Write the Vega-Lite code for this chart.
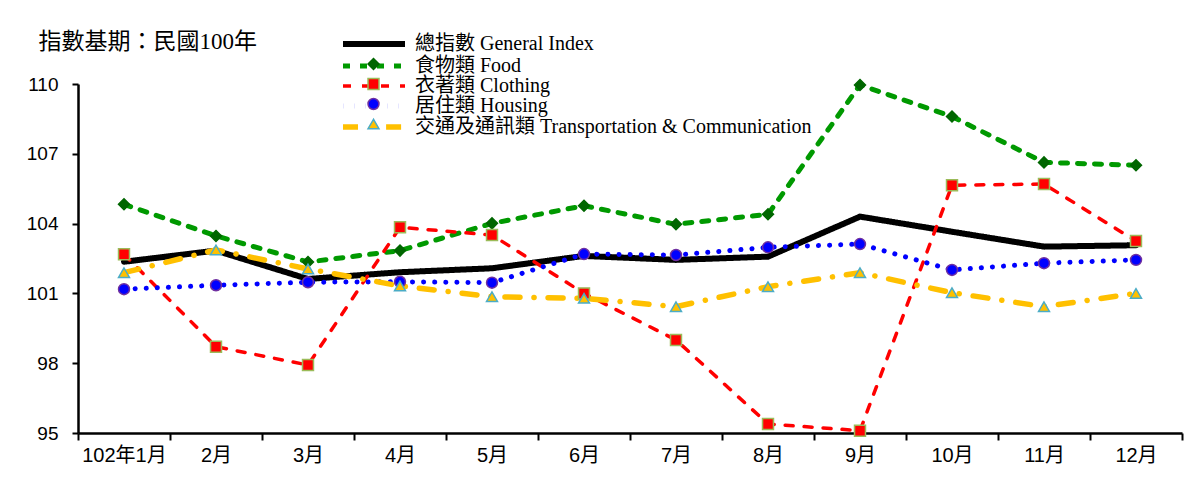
{
  "$schema": "https://vega.github.io/schema/vega-lite/v6.json",
  "width": 1104,
  "height": 349,
  "autosize": {"type": "none"},
  "padding": {"left": 78, "top": 84, "right": 16, "bottom": 50},
  "background": "white",
  "config": {"view": {"stroke": null}, "font": "Liberation Sans, Noto Sans CJK TC"},
  "data": {
    "values": [
      {"month": "102年1月", "series": "總指數 General Index", "value": 102.36},
      {"month": "2月", "series": "總指數 General Index", "value": 102.84},
      {"month": "3月", "series": "總指數 General Index", "value": 101.62},
      {"month": "4月", "series": "總指數 General Index", "value": 101.91},
      {"month": "5月", "series": "總指數 General Index", "value": 102.08},
      {"month": "6月", "series": "總指數 General Index", "value": 102.61},
      {"month": "7月", "series": "總指數 General Index", "value": 102.44},
      {"month": "8月", "series": "總指數 General Index", "value": 102.58},
      {"month": "9月", "series": "總指數 General Index", "value": 104.30},
      {"month": "10月", "series": "總指數 General Index", "value": 103.65},
      {"month": "11月", "series": "總指數 General Index", "value": 103.01},
      {"month": "12月", "series": "總指數 General Index", "value": 103.07},
      {"month": "102年1月", "series": "食物類 Food", "value": 104.83},
      {"month": "2月", "series": "食物類 Food", "value": 103.47},
      {"month": "3月", "series": "食物類 Food", "value": 102.35},
      {"month": "4月", "series": "食物類 Food", "value": 102.84},
      {"month": "5月", "series": "食物類 Food", "value": 104.01},
      {"month": "6月", "series": "食物類 Food", "value": 104.77},
      {"month": "7月", "series": "食物類 Food", "value": 103.97},
      {"month": "8月", "series": "食物類 Food", "value": 104.40},
      {"month": "9月", "series": "食物類 Food", "value": 109.96},
      {"month": "10月", "series": "食物類 Food", "value": 108.60},
      {"month": "11月", "series": "食物類 Food", "value": 106.63},
      {"month": "12月", "series": "食物類 Food", "value": 106.51},
      {"month": "102年1月", "series": "衣著類 Clothing", "value": 102.68},
      {"month": "2月", "series": "衣著類 Clothing", "value": 98.71},
      {"month": "3月", "series": "衣著類 Clothing", "value": 97.92},
      {"month": "4月", "series": "衣著類 Clothing", "value": 103.84},
      {"month": "5月", "series": "衣著類 Clothing", "value": 103.51},
      {"month": "6月", "series": "衣著類 Clothing", "value": 101.00},
      {"month": "7月", "series": "衣著類 Clothing", "value": 99.00},
      {"month": "8月", "series": "衣著類 Clothing", "value": 95.39},
      {"month": "9月", "series": "衣著類 Clothing", "value": 95.10},
      {"month": "10月", "series": "衣著類 Clothing", "value": 105.65},
      {"month": "11月", "series": "衣著類 Clothing", "value": 105.70},
      {"month": "12月", "series": "衣著類 Clothing", "value": 103.25},
      {"month": "102年1月", "series": "居住類 Housing", "value": 101.18},
      {"month": "2月", "series": "居住類 Housing", "value": 101.35},
      {"month": "3月", "series": "居住類 Housing", "value": 101.48},
      {"month": "4月", "series": "居住類 Housing", "value": 101.50},
      {"month": "5月", "series": "居住類 Housing", "value": 101.46},
      {"month": "6月", "series": "居住類 Housing", "value": 102.69},
      {"month": "7月", "series": "居住類 Housing", "value": 102.65},
      {"month": "8月", "series": "居住類 Housing", "value": 102.98},
      {"month": "9月", "series": "居住類 Housing", "value": 103.12},
      {"month": "10月", "series": "居住類 Housing", "value": 102.01},
      {"month": "11月", "series": "居住類 Housing", "value": 102.30},
      {"month": "12月", "series": "居住類 Housing", "value": 102.44},
      {"month": "102年1月", "series": "交通及通訊類 Transportation & Communication", "value": 101.89},
      {"month": "2月", "series": "交通及通訊類 Transportation & Communication", "value": 102.87},
      {"month": "3月", "series": "交通及通訊類 Transportation & Communication", "value": 102.05},
      {"month": "4月", "series": "交通及通訊類 Transportation & Communication", "value": 101.32},
      {"month": "5月", "series": "交通及通訊類 Transportation & Communication", "value": 100.86},
      {"month": "6月", "series": "交通及通訊類 Transportation & Communication", "value": 100.79},
      {"month": "7月", "series": "交通及通訊類 Transportation & Communication", "value": 100.43},
      {"month": "8月", "series": "交通及通訊類 Transportation & Communication", "value": 101.29},
      {"month": "9月", "series": "交通及通訊類 Transportation & Communication", "value": 101.89},
      {"month": "10月", "series": "交通及通訊類 Transportation & Communication", "value": 101.03},
      {"month": "11月", "series": "交通及通訊類 Transportation & Communication", "value": 100.43},
      {"month": "12月", "series": "交通及通訊類 Transportation & Communication", "value": 101.00}
    ]
  },
  "encoding": {
    "x": {
      "field": "month",
      "type": "nominal",
      "sort": ["102年1月", "2月", "3月", "4月", "5月", "6月", "7月", "8月", "9月", "10月", "11月", "12月"],
      "scale": {"type": "band", "paddingInner": 0, "paddingOuter": 0},
      "axis": {
        "title": null,
        "tickBand": "extent",
        "labelAngle": 0,
        "grid": false,
        "domainColor": "black",
        "domainWidth": 2.5,
        "tickColor": "black",
        "tickWidth": 2,
        "tickSize": 7,
        "labelFont": "Liberation Sans, Noto Sans CJK TC",
        "labelFontSize": 20,
        "labelColor": "black",
        "labelPadding": 5
      }
    },
    "y": {
      "field": "value",
      "type": "quantitative",
      "scale": {"domain": [95, 110], "zero": false, "nice": false},
      "axis": {
        "title": "指數基期：民國100年",
        "titleAngle": 0,
        "titleAlign": "left",
        "titleBaseline": "middle",
        "titleX": -40,
        "titleY": -43,
        "titleFont": "Liberation Serif, Noto Sans CJK TC",
        "titleFontSize": 23,
        "titleFontWeight": "normal",
        "titleColor": "black",
        "values": [95, 98, 101, 104, 107, 110],
        "grid": false,
        "domainColor": "black",
        "domainWidth": 2.5,
        "tickColor": "black",
        "tickWidth": 2,
        "tickSize": 6,
        "labelFont": "Liberation Sans, Noto Sans CJK TC",
        "labelFontSize": 19,
        "labelColor": "black",
        "labelPadding": 14
      }
    }
  },
  "layer": [
    {
      "mark": {"type": "line", "strokeCap": "round", "strokeJoin": "round"},
      "encoding": {
        "stroke": {
          "field": "series", "type": "nominal",
          "scale": {
            "domain": ["總指數 General Index", "食物類 Food", "衣著類 Clothing", "居住類 Housing", "交通及通訊類 Transportation & Communication"],
            "range": ["#000000", "#009900", "#FF0000", "#0000FF", "#FFC000"]
          },
          "legend": {"orient": "none", "legendX": 286, "legendY": -50, "title": null, "symbolType": "M-6.2,0H6.2", "symbolSize": 100, "labelFont": "Liberation Serif, Noto Sans CJK TC", "labelFontSize": 20, "labelColor": "black", "labelOffset": 31, "rowPadding": 0, "padding": 0, "labelLimit": 0}
        },
        "strokeDash": {
          "field": "series", "type": "nominal",
          "scale": {
            "domain": ["總指數 General Index", "食物類 Food", "衣著類 Clothing", "居住類 Housing", "交通及通訊類 Transportation & Communication"],
            "range": [[1, 0], [7, 10], [8, 11], [0.1, 11], [15, 14, 0.1, 14]]
          },
          "legend": {"orient": "none", "legendX": 286, "legendY": -50, "title": null, "symbolType": "M-6.2,0H6.2", "symbolSize": 100, "labelFont": "Liberation Serif, Noto Sans CJK TC", "labelFontSize": 20, "labelColor": "black", "labelOffset": 31, "rowPadding": 0, "padding": 0, "labelLimit": 0}
        },
        "strokeWidth": {
          "field": "series", "type": "nominal",
          "scale": {
            "type": "ordinal",
            "domain": ["總指數 General Index", "食物類 Food", "衣著類 Clothing", "居住類 Housing", "交通及通訊類 Transportation & Communication"],
            "range": [6, 5, 3.5, 5, 5.5]
          },
          "legend": {"orient": "none", "legendX": 286, "legendY": -50, "title": null, "symbolType": "M-6.2,0H6.2", "symbolSize": 100, "labelFont": "Liberation Serif, Noto Sans CJK TC", "labelFontSize": 20, "labelColor": "black", "labelOffset": 31, "rowPadding": 0, "padding": 0, "labelLimit": 0}
        }
      }
    },
    {
      "transform": [{"filter": "datum.series != '總指數 General Index'"}],
      "mark": {"type": "point", "filled": true, "size": 120, "strokeWidth": 1.5, "opacity": 1},
      "encoding": {
        "fill": {
          "field": "series", "type": "nominal",
          "scale": {
            "domain": ["食物類 Food", "衣著類 Clothing", "居住類 Housing", "交通及通訊類 Transportation & Communication"],
            "range": ["#006600", "#FF0000", "#0000FF", "#FFC000"]
          },
          "legend": {"orient": "none", "legendX": 285.5, "legendY": -30, "title": null, "symbolSize": 120, "symbolStrokeWidth": 1.5, "symbolOpacity": 1, "labelExpr": "''", "labelFontSize": 20, "rowPadding": 0, "padding": 0}
        },
        "shape": {
          "field": "series", "type": "nominal",
          "scale": {
            "domain": ["食物類 Food", "衣著類 Clothing", "居住類 Housing", "交通及通訊類 Transportation & Communication"],
            "range": ["diamond", "square", "circle", "triangle-up"]
          },
          "legend": {"orient": "none", "legendX": 285.5, "legendY": -30, "title": null, "symbolSize": 120, "symbolStrokeWidth": 1.5, "symbolOpacity": 1, "labelExpr": "''", "labelFontSize": 20, "rowPadding": 0, "padding": 0}
        },
        "stroke": {
          "field": "series", "type": "nominal",
          "scale": {
            "domain": ["食物類 Food", "衣著類 Clothing", "居住類 Housing", "交通及通訊類 Transportation & Communication"],
            "range": ["#006600", "#9BBB59", "#7030A0", "#4BACC6"]
          },
          "legend": {"orient": "none", "legendX": 285.5, "legendY": -30, "title": null, "symbolSize": 120, "symbolStrokeWidth": 1.5, "symbolOpacity": 1, "labelExpr": "''", "labelFontSize": 20, "rowPadding": 0, "padding": 0}
        }
      }
    }
  ],
  "resolve": {
    "scale": {"stroke": "independent", "strokeDash": "independent", "strokeWidth": "independent", "fill": "independent", "shape": "independent"}
  }
}
